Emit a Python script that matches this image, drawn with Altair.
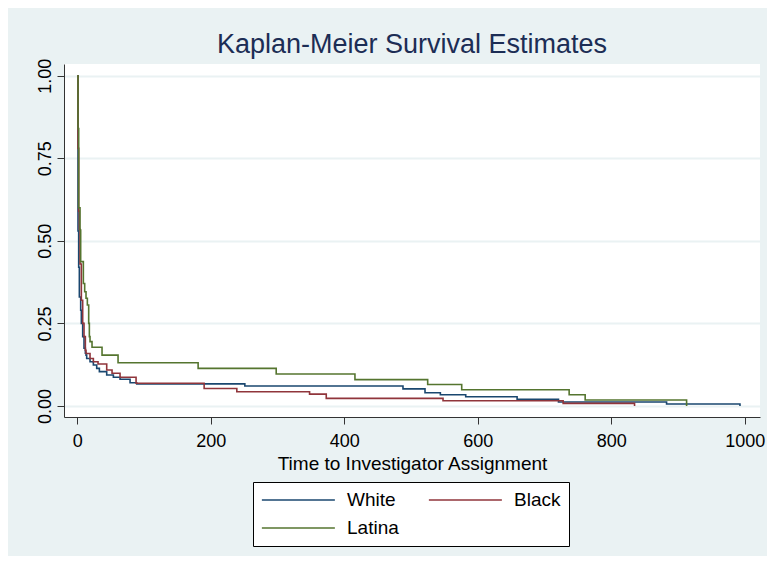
import altair as alt
import pandas as pd

# ---- data (time in days, survival probability) ----
groups = ["White", "Black", "Latina"]
colors = ["#1A476F", "#90353B", "#55752F"]

white_t = [0, 1, 2, 3, 5, 6, 8, 10, 12, 13, 14, 19, 24, 29, 33, 44, 54, 64, 79, 89,
           251, 488, 521, 544, 582, 659, 721, 883, 993]
white_s = [1.0, 0.53, 0.42, 0.33, 0.29, 0.25, 0.21, 0.175, 0.16, 0.154, 0.144, 0.134,
           0.124, 0.114, 0.104, 0.094, 0.087, 0.081, 0.0705, 0.067,
           0.0605, 0.052, 0.040, 0.034, 0.028, 0.020, 0.012, 0.006, 0.0]

black_t = [0, 1, 2, 3, 4, 6, 8, 10, 12, 13, 19, 24, 31, 44, 52, 64, 88,
           190, 239, 348, 373, 548, 728, 835]
black_s = [1.0, 0.78, 0.59, 0.535, 0.43, 0.32, 0.25, 0.21, 0.169, 0.159, 0.144, 0.134,
           0.127, 0.109, 0.099, 0.087, 0.069,
           0.053, 0.043, 0.036, 0.023, 0.016, 0.008, 0.0]

latina_t = [0, 1, 2, 4, 5, 9, 11, 13, 15, 17, 18, 19, 22, 37, 61,
            181, 298, 416, 525, 576, 737, 761, 913]
latina_s = [1.0, 0.84, 0.60, 0.533, 0.437, 0.371, 0.346, 0.326, 0.306, 0.25, 0.21,
            0.195, 0.178, 0.154, 0.131,
            0.114, 0.097, 0.080, 0.065, 0.049, 0.034, 0.018, 0.0]

x_ticks = [0, 200, 400, 600, 800, 1000]
y_ticks = [0, 0.25, 0.5, 0.75, 1.0]

FONT = "Liberation Sans"

series = {
    "White": (white_t, white_s),
    "Black": (black_t, black_s),
    "Latina": (latina_t, latina_s),
}

color_scale = alt.Scale(domain=groups, range=colors)

x_enc = alt.X(
    "t:Q",
    scale=alt.Scale(domain=[-20, 1023], nice=False, zero=False),
    axis=alt.Axis(
        values=x_ticks, format="d", title="Time to Investigator Assignment", grid=False,
        labelFontSize=18, titleFontSize=19, labelFont=FONT, titleFont=FONT,
        titleFontWeight="normal", labelColor="black", titleColor="black",
        tickSize=7, labelPadding=8, titlePadding=4,
        domainColor="#333333", tickColor="#333333", labelFlush=False,
    ),
)
y_enc = alt.Y(
    "s:Q",
    scale=alt.Scale(domain=[-0.0333, 1.0354], nice=False, zero=False),
    axis=alt.Axis(
        values=y_ticks, format=".2f", title=None, grid=True,
        gridColor="#EAF2F3", gridWidth=2,
        labelAngle=270, labelAlign="center", labelBaseline="alphabetic",
        labelFontSize=18, labelFont=FONT, labelColor="black",
        tickSize=7, labelPadding=7,
        domainColor="#333333", tickColor="#333333", labelFlush=False,
    ),
)

layers = []
for g in groups:
    t, s = series[g]
    df = pd.DataFrame({"t": t, "s": s, "group": g})
    layers.append(
        alt.Chart(df)
        .mark_line(interpolate="step-after", strokeWidth=1.6)
        .encode(
            x=x_enc,
            y=y_enc,
            color=alt.Color(
                "group:N",
                scale=color_scale,
                legend=alt.Legend(
                    title=None, orient="none", legendX=189, legendY=418,
                    direction="horizontal", columns=2,
                    symbolType="M-1,0H7", symbolSize=333,
                    symbolStrokeWidth=1.5, labelFontSize=19, labelFont=FONT,
                    labelColor="black", strokeColor="black", fillColor="white",
                    padding=8, columnPadding=26, rowPadding=8, labelOffset=66,
                    cornerRadius=0,
                ),
            ),
        )
    )

chart = (
    alt.layer(*layers)
    .properties(
        width=696,
        height=353,
        title=alt.TitleParams(
            "Kaplan-Meier Survival Estimates", fontSize=27, font=FONT,
            fontWeight="normal", color="#1C2D55", anchor="middle",
            frame="group", offset=10, baseline="alphabetic", dy=32,
        ),
        background="#EAF2F3",
        padding={"left": 56, "top": 56, "right": 7, "bottom": 139},
        autosize=alt.AutoSizeParams(type="none"),
    )
    .configure_view(fill="white", strokeWidth=0)
)

chart.save("out.html", embed_options={"renderer": "svg", "actions": False})
